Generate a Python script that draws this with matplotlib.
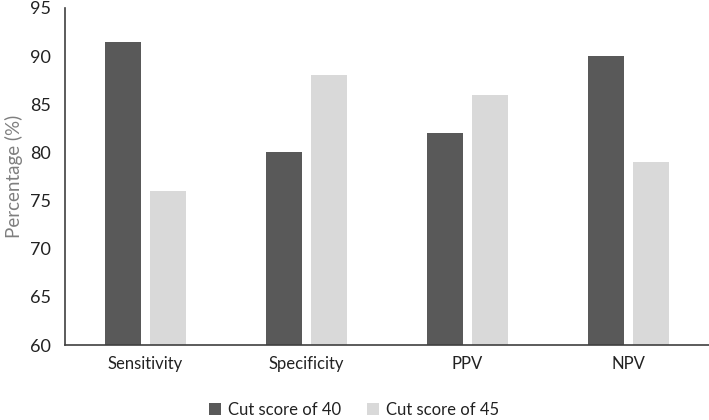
import matplotlib
matplotlib.use("Agg")
import matplotlib.pyplot as plt
import numpy as np

categories = ["Sensitivity", "Specificity", "PPV", "NPV"]
cut40 = [91.5, 80, 82, 90]
cut45 = [76, 88, 86, 79]
series_names = ["Cut score of 40", "Cut score of 45"]
yticks = [60, 65, 70, 75, 80, 85, 90, 95]

plt.rcParams['font.family'] = ['Lato', 'DejaVu Sans']

fig = plt.figure(figsize=(7.09, 4.20), dpi=100)
ax = fig.add_axes([65/709, 1-345/420, 644/709, 337/420])

x = np.arange(len(categories))
w = 0.225
off = 0.14
b1 = ax.bar(x - off, [v - 60 for v in cut40], w, bottom=60, color="#595959", label=series_names[0])
b2 = ax.bar(x + off, [v - 60 for v in cut45], w, bottom=60, color="#d9d9d9", label=series_names[1])

ax.set_xlim(-0.5, len(categories) - 0.5)
ax.set_ylim(60, 95)
ax.set_yticks(yticks)
ax.set_xticks(x)
ax.set_xticklabels(categories, fontsize=12, color="#222222")
ax.tick_params(axis='y', labelsize=13, labelcolor="#222222", length=0, pad=10)
ax.tick_params(axis='x', length=0, pad=8)
for s in ["top", "right"]:
    ax.spines[s].set_visible(False)
ax.spines["left"].set_color("#404040")
ax.spines["bottom"].set_color("#404040")
ax.spines["left"].set_linewidth(1.2)
ax.spines["bottom"].set_linewidth(1.2)

ax.set_ylabel("Percentage (%)", fontsize=13.5, color="#7f7f7f", labelpad=5)

fig.legend(handles=[b1, b2], labels=series_names, loc="center", bbox_to_anchor=(354/709, 1-410/420),
           ncol=2, frameon=False, fontsize=12, handlelength=0.7, handleheight=0.7,
           columnspacing=1.6, handletextpad=0.4, labelcolor="#222222")

fig.savefig("out.png", dpi=100)
